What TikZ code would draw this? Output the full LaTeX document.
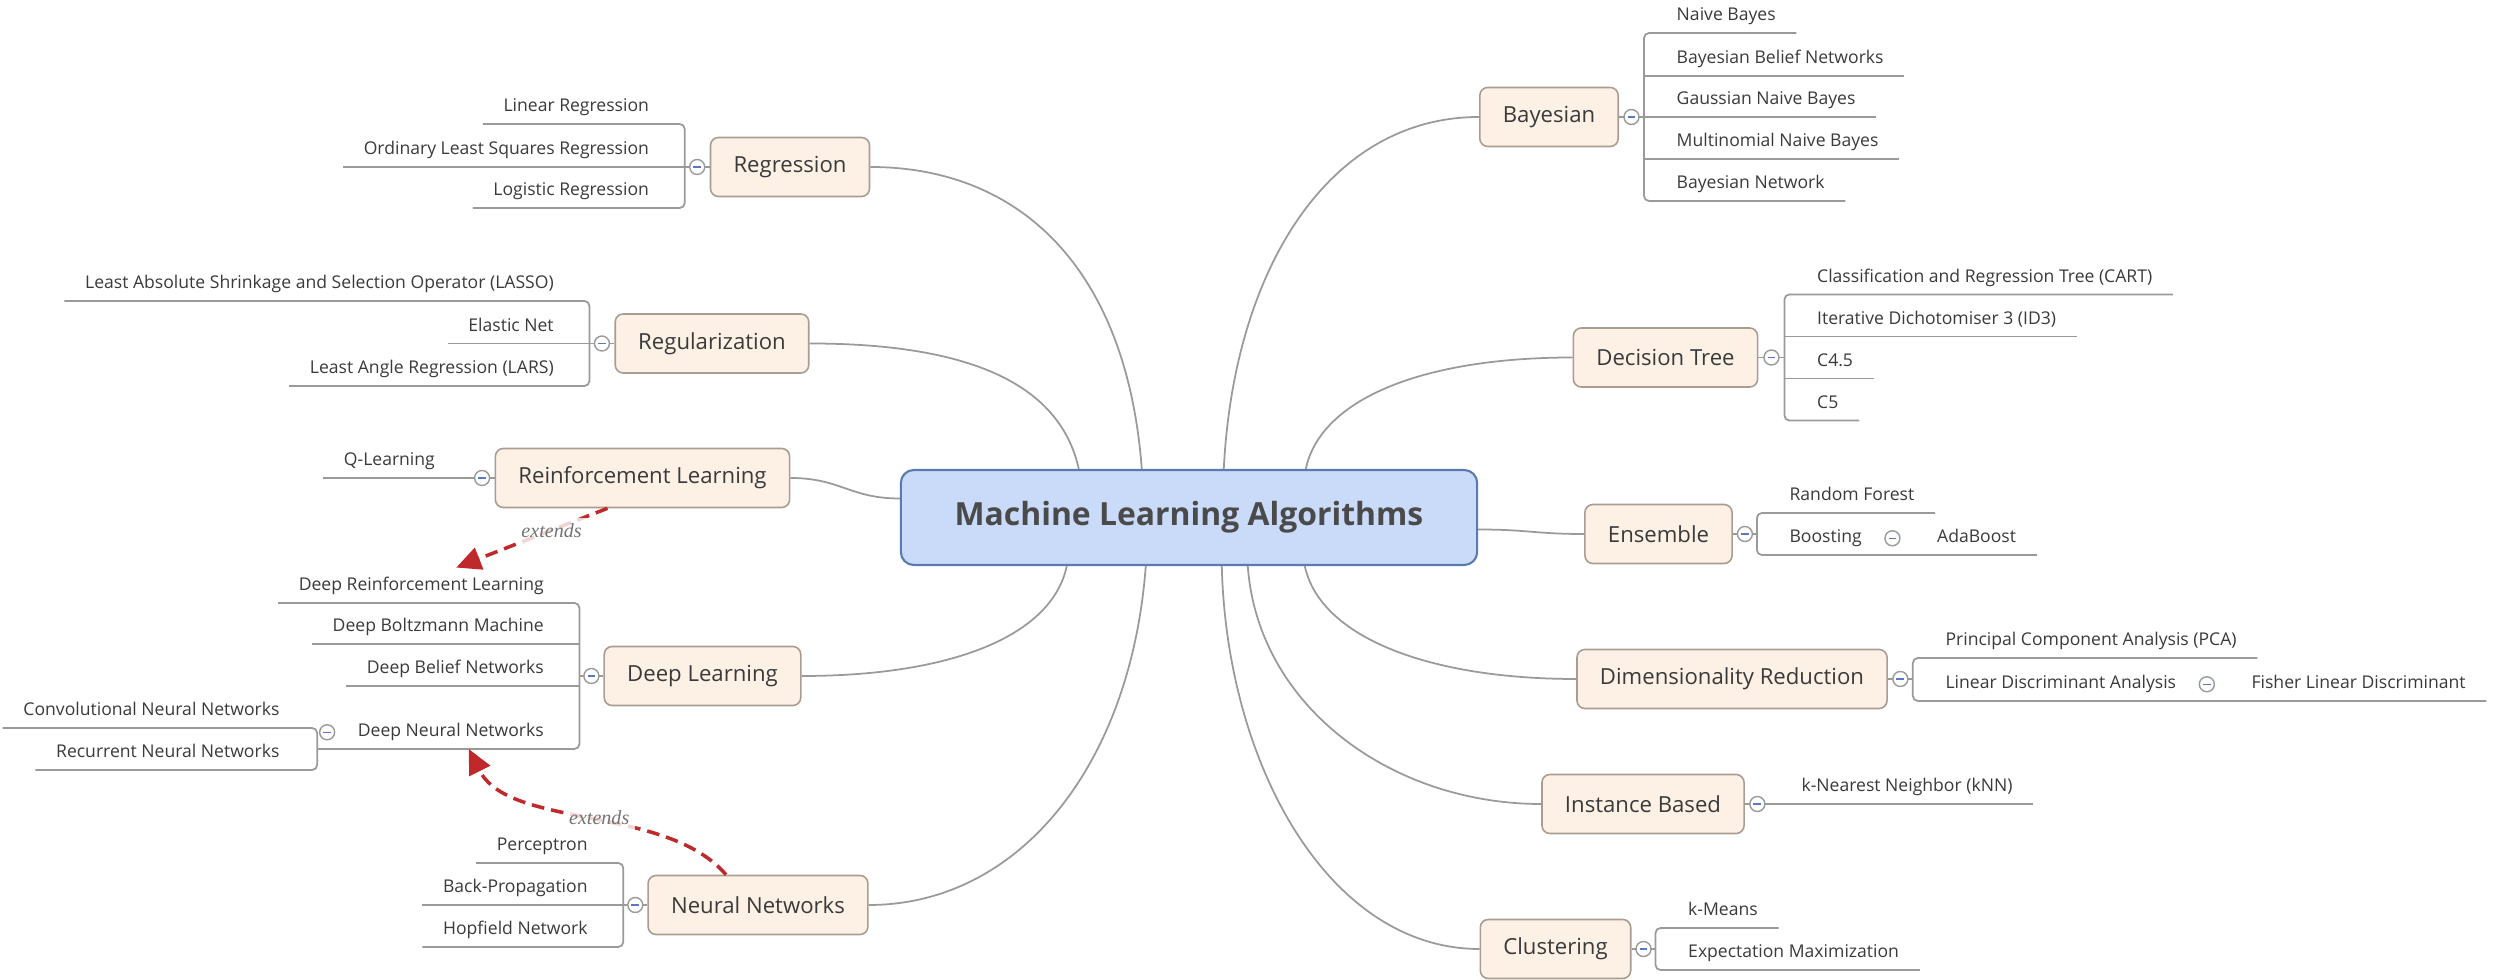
\documentclass[tikz,border=0pt]{standalone}
\usepackage{fontspec}
\setmainfont{Open Sans}
\newfontfamily\notefont{Liberation Serif}
\usepackage{xcolor}
\usepackage{tikz}
\usetikzlibrary{arrows.meta, positioning, calc}
\definecolor{rootfill}{HTML}{C9DBF8}
\definecolor{rootframe}{HTML}{5B7AB0}
\definecolor{topicfill}{HTML}{FDF1E6}
\definecolor{topicframe}{HTML}{A99C90}
\definecolor{linkgray}{HTML}{9A9A9A}
\definecolor{textgray}{HTML}{3A3A3A}
\definecolor{roottext}{HTML}{4A4A4A}
\definecolor{foldblue}{HTML}{5A78C8}
\definecolor{extendcol}{HTML}{C0292C}
\newcommand{\foldmark}{\textcolor{foldblue}{\rule[-0.2pt]{2.2pt}{0.4pt}}}

\begin{document}
\begin{tikzpicture}[
   x=0.01cm, y=-0.01cm,
   root/.style = {rectangle, rounded corners=0.13cm, draw=rootframe, line width=0.6pt, fill=rootfill,
                  minimum width=5.76cm, minimum height=0.95cm, text=roottext,
                  font=\fontsize{9.07}{11}\selectfont\bfseries},
   topic/.style = {rectangle, rounded corners=0.08cm, draw=topicframe, line width=0.45pt, fill=topicfill,
                   minimum height=0.59cm, inner xsep=0.23cm, text=textgray,
                   font=\fontsize{6.3}{7.5}\selectfont},
   leaf/.style = {inner xsep=0.2cm, inner ysep=0.075cm, text height=0.13cm, text depth=0.04cm,
                  text=textgray, font=\fontsize{5}{6}\selectfont},
   fold/.style = {circle, draw=linkgray, fill=white, line width=0.4pt, minimum size=0.15cm, inner sep=0pt},
   stem/.style = {draw=linkgray, line width=0.5pt, rounded corners=0.05cm},
   link/.style = {draw=linkgray, line width=0.5pt},
   extends/.style = {draw=extendcol, line width=1pt, dash pattern=on 3.6pt off 2pt,
                     -{Triangle[length=7pt, width=6.5pt]}},
   note/.style = {font=\notefont\itshape\fontsize{5.7}{7}\selectfont, text=black!55,
                  fill=white, fill opacity=0.8, text opacity=1, inner sep=1.5pt}]
  \useasboundingbox (0,0) rectangle (2496,980);

  \node[root] (ml) at (1189,517.5) {Machine Learning Algorithms};

  % main topics, left side
  \node[topic] (reg)   at (790,167)   {Regression};
  \node[topic] (regul) at (712,343.5) {Regularization};
  \node[topic] (rl)    at (642.5,478) {Reinforcement Learning};
  \node[topic] (dl)    at (702.5,676) {Deep Learning};
  \node[topic] (nn)    at (758,905)   {Neural Networks};
  % main topics, right side
  \node[topic] (bay)   at (1549,117)    {Bayesian};
  \node[topic] (dt)    at (1665.5,357.5) {Decision Tree};
  \node[topic] (ens)   at (1658.5,534)  {Ensemble};
  \node[topic] (dr)    at (1732,679)    {Dimensionality Reduction};
  \node[topic] (ib)    at (1643,804)    {Instance Based};
  \node[topic] (clu)   at (1555.5,949)  {Clustering};

  \draw[link] ($(ml.north west)+(242,0)$) .. controls +(-15,-200) and +(150,0) .. (reg.east);
  \draw[link] ($(ml.north west)+(179,0)$) .. controls +(-20,-90) and +(150,0) .. (regul.east);
  \draw[link] ($(ml.west)+(0,-19)$) .. controls +(-50,0) and +(50,0) .. (rl.east);
  \draw[link] ($(ml.south west)+(167,0)$) .. controls +(-15,70) and +(150,0) .. (dl.east);
  \draw[link] ($(ml.south west)+(246,0)$) .. controls +(-15,200) and +(150,0) .. (nn.east);
  \draw[link] ($(ml.north west)+(324,0)$) .. controls +(10,-200) and +(-150,0) .. (bay.west);
  \draw[link] ($(ml.north west)+(406,0)$) .. controls +(15,-70) and +(-150,0) .. (dt.west);
  \draw[link] ($(ml.east)+(0,12)$) .. controls +(50,0) and +(-50,0) .. (ens.west);
  \draw[link] ($(ml.south west)+(405,0)$) .. controls +(15,70) and +(-150,0) .. (dr.west);
  \draw[link] ($(ml.south west)+(348,0)$) .. controls +(10,140) and +(-150,0) .. (ib.west);
  \draw[link] ($(ml.south west)+(322,0)$) .. controls +(5,200) and +(-150,0) .. (clu.west);

  \coordinate (reg-b)   at ($(reg.west)+(-25,0)$);
  \coordinate (regul-b) at ($(regul.west)+(-25,0)$);
  \coordinate (dl-b)    at ($(dl.west)+(-24,0)$);
  \coordinate (nn-b)    at ($(nn.west)+(-24,0)$);
  \coordinate (bay-b)   at ($(bay.east)+(25,0)$);
  \coordinate (dt-b)    at ($(dt.east)+(26,0)$);
  \coordinate (ens-b)   at ($(ens.east)+(24,0)$);
  \coordinate (dr-b)    at ($(dr.east)+(25,0)$);
  \coordinate (clu-b)   at ($(clu.east)+(24,0)$);

  % leaves
  \node[leaf, anchor=south east] (linreg) at ($(reg-b)+(-15,-43)$) {Linear Regression};
  \node[leaf, anchor=south east] (olsreg) at ($(reg-b)+(-15,0)$)   {Ordinary Least Squares Regression};
  \node[leaf, anchor=south east] (logreg) at ($(reg-b)+(-15,41)$)  {Logistic Regression};

  \node[leaf, anchor=south east] (lasso) at ($(regul-b)+(-15,-42.5)$) {Least Absolute Shrinkage and Selection Operator (LASSO)};
  \node[leaf, anchor=south east] (enet)  at ($(regul-b)+(-15,0)$)     {Elastic Net};
  \node[leaf, anchor=south east] (lars)  at ($(regul-b)+(-15,42.5)$)  {Least Angle Regression (LARS)};

  \node[leaf, anchor=south east] (qlearn) at ($(rl.west)+(-39,0)$) {Q-Learning};

  \node[leaf, anchor=south east] (drl) at ($(dl-b)+(-15,-73)$) {Deep Reinforcement Learning};
  \node[leaf, anchor=south east] (dbm) at ($(dl-b)+(-15,-32)$) {Deep Boltzmann Machine};
  \node[leaf, anchor=south east] (dbn) at ($(dl-b)+(-15,10)$)  {Deep Belief Networks};
  \node[leaf, anchor=south east] (dnn) at ($(dl-b)+(-15,73)$)  {Deep Neural Networks};
  \coordinate (dnn-b) at ($(dnn.south west)+(-20,0)$);
  \node[leaf, anchor=south east] (cnn) at ($(dnn-b)+(-17,-21)$) {Convolutional Neural Networks};
  \node[leaf, anchor=south east] (rnn) at ($(dnn-b)+(-17,21)$)  {Recurrent Neural Networks};

  \node[leaf, anchor=south east] (perc)     at ($(nn-b)+(-15,-42)$) {Perceptron};
  \node[leaf, anchor=south east] (backprop) at ($(nn-b)+(-15,0)$)   {Back-Propagation};
  \node[leaf, anchor=south east] (hopf)     at ($(nn-b)+(-15,42)$)  {Hopfield Network};

  \node[leaf, anchor=south west] (nbayes) at ($(bay-b)+(12,-84)$) {Naive Bayes};
  \node[leaf, anchor=south west] (bbn)    at ($(bay-b)+(12,-41)$) {Bayesian Belief Networks};
  \node[leaf, anchor=south west] (gnb)    at ($(bay-b)+(12,0)$)   {Gaussian Naive Bayes};
  \node[leaf, anchor=south west] (mnb)    at ($(bay-b)+(12,42)$)  {Multinomial Naive Bayes};
  \node[leaf, anchor=south west] (bnet)   at ($(bay-b)+(12,84)$)  {Bayesian Network};

  \node[leaf, anchor=south west] (cart)  at ($(dt-b)+(12,-63)$) {Classification and Regression Tree (CART)};
  \node[leaf, anchor=south west] (id3)   at ($(dt-b)+(12,-21)$) {Iterative Dichotomiser 3 (ID3)};
  \node[leaf, anchor=south west] (cfour) at ($(dt-b)+(12,21)$)  {C4.5};
  \node[leaf, anchor=south west] (cfive) at ($(dt-b)+(12,63)$)  {C5};

  \node[leaf, anchor=south west] (rforest) at ($(ens-b)+(12,-21)$) {Random Forest};
  \node[leaf, anchor=south west] (boost)   at ($(ens-b)+(12,21)$)  {Boosting};
  \coordinate (boost-b) at ($(boost.south east)+(21,0)$);
  \node[leaf, anchor=south west] (ada) at ($(boost-b)+(13,0)$) {AdaBoost};

  \node[leaf, anchor=south west] (pca) at ($(dr-b)+(12,-21)$) {Principal Component Analysis (PCA)};
  \node[leaf, anchor=south west] (lda) at ($(dr-b)+(12,22)$)  {Linear Discriminant Analysis};
  \coordinate (lda-b) at ($(lda.south east)+(21,0)$);
  \node[leaf, anchor=south west] (fisher) at ($(lda-b)+(13,0)$) {Fisher Linear Discriminant};

  \node[leaf, anchor=south west] (knn) at ($(ib.east)+(36,0)$) {k-Nearest Neighbor (kNN)};

  \node[leaf, anchor=south west] (kmeans) at ($(clu-b)+(12,-21)$) {k-Means};
  \node[leaf, anchor=south west] (emax)   at ($(clu-b)+(12,21)$)  {Expectation Maximization};

  % brackets and underlines
  \draw[stem] (linreg.south west) -- (linreg.south east) -- (linreg.south east -| reg-b)
              -- (logreg.south east -| reg-b) -- (logreg.south east) -- (logreg.south west);
  \draw[stem] (olsreg.south west) -- (reg.west);

  \draw[stem] (lasso.south west) -- (lasso.south east) -- (lasso.south east -| regul-b)
              -- (lars.south east -| regul-b) -- (lars.south east) -- (lars.south west);
  \draw[stem] (enet.south west) -- (regul.west);

  \draw[stem] (qlearn.south west) -- (rl.west);

  \draw[stem] (drl.south west) -- (drl.south east) -- (drl.south east -| dl-b)
              -- (dnn.south east -| dl-b) -- (dnn.south east) -- (dnn-b);
  \draw[stem] (dl.west) -- (dl-b);
  \draw[stem] (dbm.south west) -- (dbm.south east -| dl-b);
  \draw[stem] (dbn.south west) -- (dbn.south east -| dl-b);
  \draw[stem] (cnn.south west) -- (cnn.south east) -- (cnn.south east -| dnn-b)
              -- (rnn.south east -| dnn-b) -- (rnn.south east) -- (rnn.south west);

  \draw[stem] (perc.south west) -- (perc.south east) -- (perc.south east -| nn-b)
              -- (hopf.south east -| nn-b) -- (hopf.south east) -- (hopf.south west);
  \draw[stem] (backprop.south west) -- (nn.west);

  \draw[stem] (nbayes.south east) -- (nbayes.south west) -- (nbayes.south west -| bay-b)
              -- (bnet.south west -| bay-b) -- (bnet.south west) -- (bnet.south east);
  \draw[stem] (bay.east) -- (gnb.south east);
  \draw[stem] (bbn.south east) -- (bbn.south west -| bay-b);
  \draw[stem] (mnb.south east) -- (mnb.south west -| bay-b);

  \draw[stem] (cart.south east) -- (cart.south west) -- (cart.south west -| dt-b)
              -- (cfive.south west -| dt-b) -- (cfive.south west) -- (cfive.south east);
  \draw[stem] (dt.east) -- (dt-b);
  \draw[stem] (id3.south east) -- (id3.south west -| dt-b);
  \draw[stem] (cfour.south east) -- (cfour.south west -| dt-b);

  \draw[stem] (rforest.south east) -- (rforest.south west) -- (rforest.south west -| ens-b)
              -- (boost.south west -| ens-b) -- (boost.south west) -- (ada.south east);
  \draw[stem] (ens.east) -- (ens-b);

  \draw[stem] (pca.south east) -- (pca.south west) -- (pca.south west -| dr-b)
              -- (lda.south west -| dr-b) -- (lda.south west) -- (fisher.south east);
  \draw[stem] (dr.east) -- (dr-b);

  \draw[stem] (ib.east) -- (knn.south east);

  \draw[stem] (kmeans.south east) -- (kmeans.south west) -- (kmeans.south west -| clu-b)
              -- (emax.south west -| clu-b) -- (emax.south west) -- (emax.south east);
  \draw[stem] (clu.east) -- (clu-b);

  % collapse buttons
  \node[fold] (reg-f)   at ($(reg.west)+(-12.5,0)$)   {\foldmark};
  \node[fold] (regul-f) at ($(regul.west)+(-12.5,0)$) {\foldmark};
  \node[fold] (rl-f)    at ($(rl.west)+(-12.5,0)$)    {\foldmark};
  \node[fold] (dl-f)    at ($(dl.west)+(-12,0)$)      {\foldmark};
  \node[fold] (nn-f)    at ($(nn.west)+(-12,0)$)      {\foldmark};
  \node[fold] (dnn-f)   at ($(dnn.west)+(-10,0)$)     {\foldmark};
  \node[fold] (bay-f)   at ($(bay.east)+(12.5,0)$)    {\foldmark};
  \node[fold] (dt-f)    at ($(dt.east)+(13,0)$)       {\foldmark};
  \node[fold] (ens-f)   at ($(ens.east)+(12,0)$)      {\foldmark};
  \node[fold] (boost-f) at ($(boost.east)+(10,0)$)    {\foldmark};
  \node[fold] (dr-f)    at ($(dr.east)+(12.5,0)$)     {\foldmark};
  \node[fold] (lda-f)   at ($(lda.east)+(10,0)$)      {\foldmark};
  \node[fold] (ib-f)    at ($(ib.east)+(12.5,0)$)     {\foldmark};
  \node[fold] (clu-f)   at ($(clu.east)+(12,0)$)      {\foldmark};

  \draw[extends] ($(rl.south)+(-35,0)$) -- node[note, pos=0.37] {extends} ($(drl.north)+(35,-2)$);
  \draw[extends] ($(nn.north)+(-32,0)$) .. controls +(-60,-70) and +(40,80) ..
                 node[note, pos=0.47] {extends} ($(dnn.south)+(18,0)$);
\end{tikzpicture}
\end{document}
